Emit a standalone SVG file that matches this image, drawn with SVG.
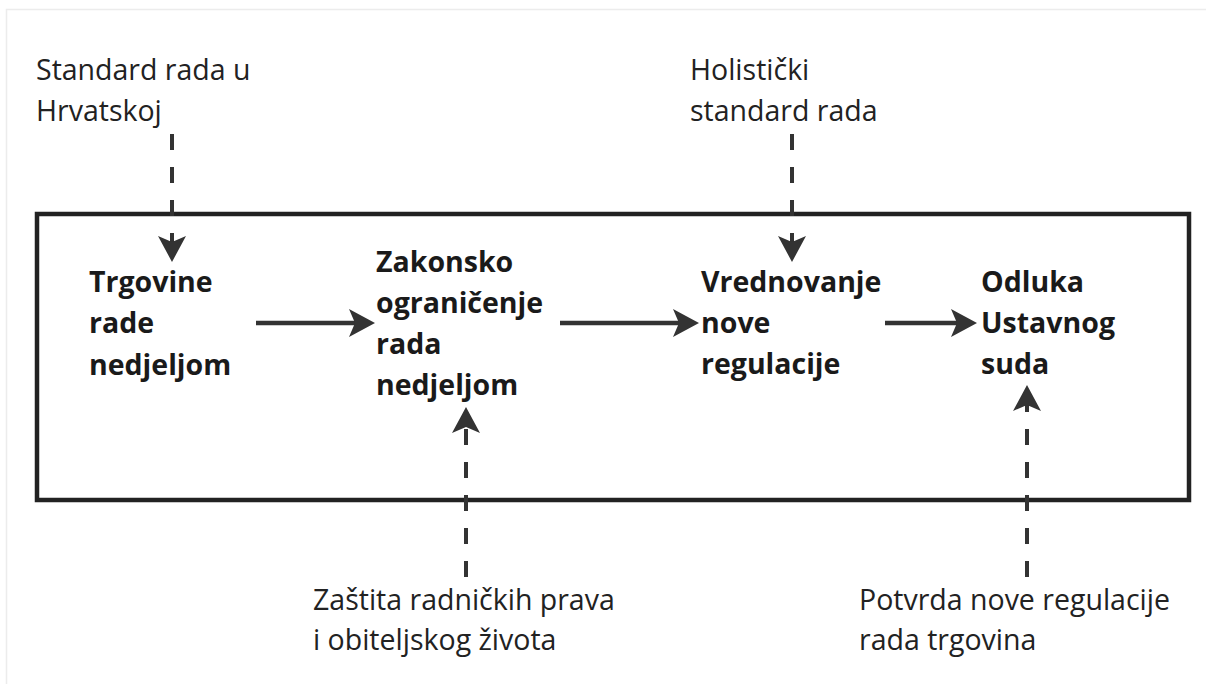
<svg xmlns="http://www.w3.org/2000/svg" width="1206" height="684" viewBox="0 0 1206 684">
  <style>
    .lbl { font-family: "Open Sans", "Liberation Sans", sans-serif; font-size: 28.5px; fill: #222222; }
    .node { font-family: "Open Sans", "Liberation Sans", sans-serif; font-size: 28.5px; font-weight: 700; fill: #1a1a1a; }
    .solid { stroke: #333333; stroke-width: 4.5; fill: none; }
    .dash { stroke: #333333; stroke-width: 4; fill: none; stroke-dasharray: 16 17; }
  </style>
  <defs>
    <marker id="ah" markerUnits="userSpaceOnUse" markerWidth="30" markerHeight="32" viewBox="0 -16 30 32" refX="6" refY="0" orient="auto">
      <path d="M0,-14 L26,0 L0,14 L6,0 Z" fill="#333333"/>
    </marker>
  </defs>
  <rect width="1206" height="684" fill="#ffffff"/>
  <path d="M6.5,684 V9.5 H1206" fill="none" stroke="#ececec" stroke-width="1.5"/>

  <g id="frame">
    <rect x="37" y="214" width="1152" height="286" fill="none" stroke="#222222" stroke-width="4.5"/>
  </g>

  <g id="connectors">
    <line class="dash" x1="172" y1="134" x2="172" y2="242" marker-end="url(#ah)"/>
    <line class="dash" x1="792" y1="134" x2="792" y2="242" marker-end="url(#ah)"/>
    <line class="dash" x1="466" y1="577" x2="466" y2="427" marker-end="url(#ah)"/>
    <line class="dash" x1="1027" y1="577" x2="1027" y2="405" marker-end="url(#ah)"/>
    <line class="solid" x1="256" y1="323" x2="355" y2="323" marker-end="url(#ah)"/>
    <line class="solid" x1="560" y1="323" x2="679" y2="323" marker-end="url(#ah)"/>
    <line class="solid" x1="885" y1="323" x2="957" y2="323" marker-end="url(#ah)"/>
  </g>

  <g id="label-standard">
    <text class="lbl" x="36" y="80">Standard rada u</text>
    <text class="lbl" x="36" y="121">Hrvatskoj</text>
  </g>
  <g id="label-holisticki">
    <text class="lbl" x="690" y="80">Holistički</text>
    <text class="lbl" x="690" y="121">standard rada</text>
  </g>
  <g id="label-zastita">
    <text class="lbl" x="313" y="610">Zaštita radničkih prava</text>
    <text class="lbl" x="313" y="650">i obiteljskog života</text>
  </g>
  <g id="label-potvrda">
    <text class="lbl" x="859" y="610">Potvrda nove regulacije</text>
    <text class="lbl" x="859" y="650">rada trgovina</text>
  </g>

  <g id="node-trgovine">
    <text class="node" x="89" y="292">Trgovine</text>
    <text class="node" x="89" y="333">rade</text>
    <text class="node" x="89" y="375">nedjeljom</text>
  </g>
  <g id="node-zakonsko">
    <text class="node" x="376" y="272">Zakonsko</text>
    <text class="node" x="376" y="313">ograničenje</text>
    <text class="node" x="376" y="354">rada</text>
    <text class="node" x="376" y="395">nedjeljom</text>
  </g>
  <g id="node-vrednovanje">
    <text class="node" x="701" y="292">Vrednovanje</text>
    <text class="node" x="701" y="333">nove</text>
    <text class="node" x="701" y="374">regulacije</text>
  </g>
  <g id="node-odluka">
    <text class="node" x="981" y="292">Odluka</text>
    <text class="node" x="981" y="333">Ustavnog</text>
    <text class="node" x="981" y="374">suda</text>
  </g>
</svg>
